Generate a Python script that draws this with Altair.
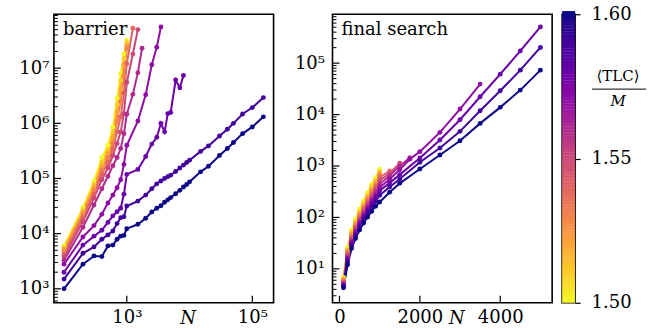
import altair as alt
import pandas as pd
import numpy as np

FONT = "DejaVu Serif"

# ---------------- data: barrier panel ----------------
N_A = [100, 200, 300, 400, 500, 600, 700, 800, 900, 1000]
N_EXTRA_LONG = [1500, 2000, 2500, 3000, 3500, 4000, 4500, 5000, 6000, 7000, 8000,
                9000, 10000, 15000, 20000, 30000, 40000, 50000, 70000, 100000, 150000]

bar_N_150 = N_A
bar_Y_150 = [6000, 29500, 90000, 240000, 400000, 850000, 2.8e6, 8e6, 1.8e7, 3.2e7]
bar_N_151 = N_A
bar_Y_151 = [5600, 27000, 80000, 200000, 340000, 700000, 2.2e6, 6e6, 1.5e7, 2.9e7]
bar_N_152 = N_A
bar_Y_152 = [5200, 24500, 71000, 170000, 290000, 560000, 1.6e6, 4.2e6, 1.15e7, 2.6e7]
bar_N_153 = N_A
bar_Y_153 = [4700, 22000, 62000, 145000, 240000, 440000, 1.1e6, 2.5e6, 7.5e6, 2.3e7]
bar_N_154 = N_A + [1250]
bar_Y_154 = [4200, 19500, 53000, 120000, 195000, 340000, 700000, 1.3e6, 3.5e6, 1.2e7, 5.3e7]
bar_N_155 = N_A + [1250, 1500]
bar_Y_155 = [3800, 16500, 44000, 95000, 155000, 260000, 430000, 700000, 1.5e6, 5.5e6, 1.8e7, 5e7]
bar_N_156 = N_A + [1250, 1500, 1750]
bar_Y_156 = [3300, 13000, 33000, 65000, 110000, 170000, 240000, 350000, 650000, 1.46e6,
             3.35e6, 8.3e6, 2.3e7]
bar_N_157 = N_A + [1500, 2000, 2500, 3000, 3500]
bar_Y_157 = [2800, 8700, 14000, 22400, 36000, 50000, 68000, 95000, 180000, 400000,
             1.1e6, 3.3e6, 1.15e7, 2.4e7, 5.6e7]
bar_N_158 = N_A + [1500, 2000, 2500, 3000, 3500, 4000, 4500, 5000, 6000, 7000, 8000]
bar_Y_158 = [2000, 6200, 9000, 11500, 16000, 21000, 25000, 28800, 52000, 119000,
             146000, 250000, 420000, 560000, 1.0e6, 700000, 1.5e6, 1.57e6, 6.1e6, 4.4e6, 7.4e6]
bar_N_159 = N_A + N_EXTRA_LONG
bar_Y_159 = [1500, 4400, 5750, 7900, 9500, 11200, 15200, 19500, 20300, 31700,
             38900, 50000, 65000, 80000, 90000, 100000, 108000, 115000, 134000, 155000,
             175000, 195000, 215000, 310000, 390000, 590000, 780000, 1.0e6, 1.48e6,
             1.93e6, 2.93e6]
bar_N_160 = N_A + N_EXTRA_LONG
bar_Y_160 = [1000, 2800, 3950, 3850, 6000, 6200, 7900, 9000, 9300, 12300,
             14800, 19000, 24700, 28800, 32000, 37000, 41000, 45000, 53000, 61000,
             70000, 78000, 87000, 132000, 167000, 262000, 350000, 450000, 650000,
             860000, 1.31e6]

# ---------------- data: final search panel ----------------
fin_N_150 = N_A
fin_Y_150 = [6.8, 26, 57, 92, 144, 209, 303, 441, 593, 863]
fin_N_151 = N_A
fin_Y_151 = [6.5, 24, 52, 84, 130, 188, 270, 390, 530, 780]
fin_N_152 = N_A
fin_Y_152 = [6.2, 22.5, 48, 77, 119, 171, 245, 350, 480, 720]
fin_N_153 = N_A
fin_Y_153 = [5.9, 21, 44, 71, 109, 157, 223, 316, 435, 660]
fin_N_154 = N_A + [1250]
fin_Y_154 = [5.6, 19.5, 41, 66, 100, 144, 203, 285, 390, 600, 800]
fin_N_155 = N_A + [1250, 1500]
fin_Y_155 = [5.3, 18, 38, 61, 92, 132, 184, 256, 350, 520, 720, 1130]
fin_N_156 = N_A + [1250, 1500, 1750]
fin_Y_156 = [5.1, 17, 35, 56, 85, 121, 167, 230, 310, 440, 650, 1000, 1450]
fin_N_157 = N_A + [1250, 1500, 1750, 2000, 2500, 3000, 3500]
fin_Y_157 = [4.9, 16, 33, 52, 78, 111, 152, 207, 275, 380, 560, 850, 1350, 1900,
             4510, 12800, 39100]
fin_N_158 = N_A + [1250, 1500, 2000, 2500, 3000, 3500, 4000, 4500, 5000]
fin_Y_158 = [4.7, 15, 31, 48, 72, 101, 138, 185, 245, 330, 470, 680, 1430, 3200,
             7920, 22200, 61000, 173000, 507000]
fin_N_159 = N_A + [1250, 1500, 2000, 2500, 3000, 3500, 4000, 4500, 5000]
fin_Y_159 = [4.5, 13.5, 28, 44, 65, 91, 122, 160, 205, 270, 390, 560, 1180, 2240,
             4720, 11900, 29000, 73000, 202000]
fin_N_160 = N_A + [1250, 1500, 2000, 2500, 3000, 3500, 4000, 4500, 5000]
fin_Y_160 = [4.3, 12, 25, 39, 57, 78, 102, 131, 165, 200, 310, 460, 875, 1640,
             3100, 6740, 13800, 29900, 73000]

TLC = [1.50, 1.51, 1.52, 1.53, 1.54, 1.55, 1.56, 1.57, 1.58, 1.59, 1.60]
BAR = [(bar_N_150, bar_Y_150), (bar_N_151, bar_Y_151), (bar_N_152, bar_Y_152),
       (bar_N_153, bar_Y_153), (bar_N_154, bar_Y_154), (bar_N_155, bar_Y_155),
       (bar_N_156, bar_Y_156), (bar_N_157, bar_Y_157), (bar_N_158, bar_Y_158),
       (bar_N_159, bar_Y_159), (bar_N_160, bar_Y_160)]
FIN = [(fin_N_150, fin_Y_150), (fin_N_151, fin_Y_151), (fin_N_152, fin_Y_152),
       (fin_N_153, fin_Y_153), (fin_N_154, fin_Y_154), (fin_N_155, fin_Y_155),
       (fin_N_156, fin_Y_156), (fin_N_157, fin_Y_157), (fin_N_158, fin_Y_158),
       (fin_N_159, fin_Y_159), (fin_N_160, fin_Y_160)]

# axis tick values
BAR_X_MAJOR = [1000, 100000]
BAR_Y_MAJOR = [1e3, 1e4, 1e5, 1e6, 1e7]
FIN_X_MAJOR = [0, 2000, 4000]
FIN_Y_MAJOR = [1e1, 1e2, 1e3, 1e4, 1e5]
CB_TICKS = [1.50, 1.55, 1.60]


def to_frame(tlcs, series):
    rows = []
    for t, (ns, ys) in zip(tlcs, series):
        for n, y in zip(ns, ys):
            rows.append({"N": n, "Y": y, "tlc": t})
    return pd.DataFrame(rows)


def minor_ticks(lo, hi):
    out = []
    for e in range(-1, 9):
        for m in range(2, 10):
            v = m * 10.0 ** e
            if lo < v < hi:
                out.append(v)
    return out


bar_df = to_frame(TLC, BAR)
fin_df = to_frame(TLC, FIN)

W, H = 220, 289
SUP = "'10' + ['⁰','¹','²','³','⁴','⁵','⁶','⁷','⁸'][round(log(datum.value)/LN10)]"

cscale = alt.Scale(scheme="plasma", domain=[1.5, 1.6], reverse=True)
color = alt.Color("tlc:Q", scale=cscale, legend=None)

lab = dict(labelFont=FONT, labelFontSize=18, labelColor="black", grid=False,
           ticks=False, domain=False, labelFlush=False, labelOverlap=False)


def panel(df, xs, ys, xaxis, yaxis, xmaj, ymaj, ymin, label):
    X = alt.X("N:Q", scale=xs, axis=xaxis)
    Y = alt.Y("Y:Q", scale=ys, axis=yaxis)
    lines = alt.Chart(df).mark_line(strokeWidth=2).encode(
        x=X, y=Y, color=color, detail="tlc:N", order="N:Q")
    pts = alt.Chart(df).mark_circle(size=24, opacity=1).encode(x=X, y=Y, color=color)
    ytmaj = alt.Chart(pd.DataFrame({"Y": ymaj})).mark_rule(color="black", strokeWidth=1.2).encode(
        y=Y, x=alt.value(0), x2=alt.value(7))
    ytmin = alt.Chart(pd.DataFrame({"Y": ymin})).mark_rule(color="black", strokeWidth=1).encode(
        y=Y, x=alt.value(0), x2=alt.value(4))
    xtmaj = alt.Chart(pd.DataFrame({"N": xmaj})).mark_rule(color="black", strokeWidth=1.2).encode(
        x=X, y=alt.value(H), y2=alt.value(H - 7))
    txt = alt.Chart(pd.DataFrame({"t": [label]})).mark_text(
        align="left", baseline="alphabetic", font=FONT, fontSize=18, color="black").encode(
        x=alt.value(9), y=alt.value(21), text="t:N")
    return alt.layer(lines, pts, ytmaj, ytmin, xtmaj, txt).properties(width=W, height=H)


bar_xs = alt.Scale(type="log", domain=[69, 2.18e5], nice=False)
bar_ys = alt.Scale(type="log", domain=[558, 9.5e7], nice=False)
bar_xaxis = alt.Axis(values=BAR_X_MAJOR, labelExpr=SUP, labelPadding=6, title="N",
                     titleFont=FONT, titleFontSize=18, titleFontStyle="italic",
                     titleFontWeight="normal", titleColor="black", titleX=134, titleY=21,
                     titleBaseline="alphabetic", titleAlign="center", **lab)
bar_yaxis = alt.Axis(values=BAR_Y_MAJOR, labelExpr=SUP, labelPadding=5, title=None,
                     labelBaseline="middle", **lab)

fin_xs = alt.Scale(domain=[-174, 5292], nice=False, zero=False)
fin_ys = alt.Scale(type="log", domain=[2.19, 8.93e5], nice=False)
fin_xaxis = alt.Axis(values=FIN_X_MAJOR, format="d", labelPadding=6, title="N",
                     titleFont=FONT, titleFontSize=18, titleFontStyle="italic",
                     titleFontWeight="normal", titleColor="black", titleX=124, titleY=21,
                     titleBaseline="alphabetic", titleAlign="center", **lab)
fin_yaxis = alt.Axis(values=FIN_Y_MAJOR, labelExpr=SUP, labelPadding=8, title=None,
                     labelBaseline="middle", **lab)

left = panel(bar_df, bar_xs, bar_ys, bar_xaxis, bar_yaxis, BAR_X_MAJOR, BAR_Y_MAJOR,
             minor_ticks(558, 9.5e7), "barrier")
right = panel(fin_df, fin_xs, fin_ys, fin_xaxis, fin_yaxis, FIN_X_MAJOR, FIN_Y_MAJOR,
              minor_ticks(2.19, 8.93e5), "final search")

# ---------------- colorbar ----------------
cb_lo = np.round(np.arange(1.5, 1.6, 0.001), 4)
cb_df = pd.DataFrame({"lo": cb_lo, "hi": cb_lo + 0.0011, "tlc": cb_lo + 0.0005})
cb_axis = alt.Axis(orient="right", values=CB_TICKS, format=".2f", title=None,
                   labelFont=FONT, labelFontSize=18, labelColor="black", grid=False,
                   ticks=True, tickSize=5, tickColor="black", tickWidth=1.2, domain=False,
                   labelPadding=11, labelFlush=False, labelOverlap=False, labelBaseline="middle")
cb_rect = alt.Chart(cb_df).mark_rect().encode(
    y=alt.Y("lo:Q", scale=alt.Scale(domain=[1.5, 1.6], nice=False, zero=False), axis=cb_axis),
    y2="hi:Q", x=alt.value(0), x2=alt.value(13), color=color)
num = alt.Chart(pd.DataFrame({"t": ["⟨TLC⟩"]})).mark_text(
    align="center", baseline="middle", font=FONT, fontSize=15, color="black").encode(
    x=alt.value(56), y=alt.value(62), text="t:N")
bar_line = alt.Chart(pd.DataFrame({"t": [0]})).mark_rule(color="black", strokeWidth=1).encode(
    x=alt.value(30), x2=alt.value(84), y=alt.value(75))
den = alt.Chart(pd.DataFrame({"t": ["M"]})).mark_text(
    align="center", baseline="middle", font=FONT, fontSize=15, fontStyle="italic",
    color="black").encode(x=alt.value(56), y=alt.value(87), text="t:N")
cbar = alt.layer(cb_rect, num, bar_line, den).properties(width=13, height=H)

inner = alt.hconcat(right, cbar, spacing=10, bounds="flush")
chart = alt.hconcat(left, inner, spacing=59, bounds="flush").properties(
    padding={"left": 18, "top": 4, "right": 0, "bottom": 0}, background="white"
).configure_view(stroke="black", strokeWidth=1.6)

chart.save("out.html", embed_options={"renderer": "svg", "actions": False})
